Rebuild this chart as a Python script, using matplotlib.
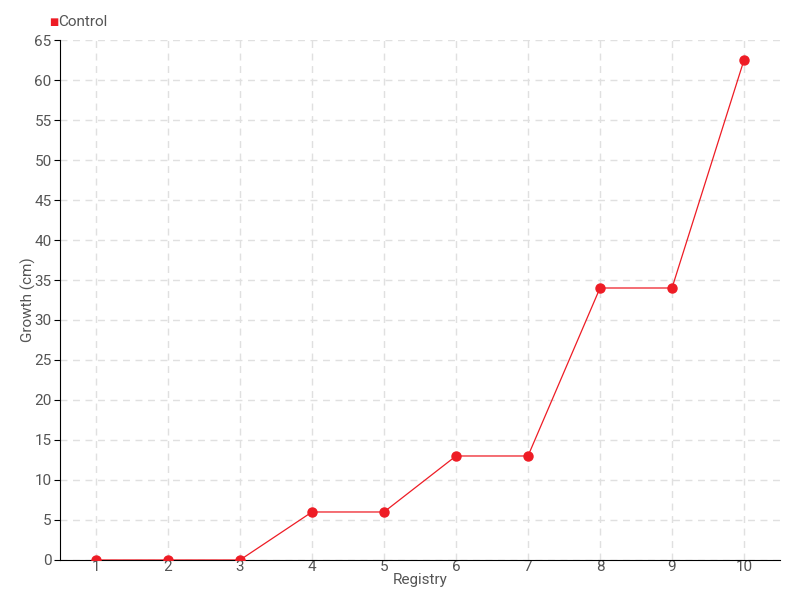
import matplotlib.pyplot as plt
import numpy as np

registry = [1, 2, 3, 4, 5, 6, 7, 8, 9, 10]
growth = [0, 0, 0, 6, 6, 13, 13, 34, 34, 62.5]
series_name = 'Control'

plt.rcParams['font.family'] = ['Roboto', 'DejaVu Sans']
txt = '#555555'
red = '#ee1c25'

fig = plt.figure(figsize=(8, 6), dpi=100)
ax = fig.add_axes([0.075, 0.0667, 0.9, 0.8666])

ax.plot(registry, growth, color=red, lw=0.9, marker='o', ms=6.5,
        markerfacecolor=red, markeredgecolor=red, label=series_name, zorder=3)

ax.set_xlim(0.5, 10.5)
ax.set_ylim(0, 65)
ax.set_xticks(registry)
ax.set_yticks(np.arange(0, 66, 5))
ax.grid(True, color='#e0e0e0', ls=(0, (5, 4)), lw=1)
for s in ['top', 'right']:
    ax.spines[s].set_visible(False)
ax.spines['left'].set_color('black')
ax.spines['bottom'].set_color('black')
ax.tick_params(axis='y', length=4, colors='black', labelcolor=txt, labelsize=11, pad=2)
ax.tick_params(axis='x', length=0, labelcolor=txt, labelsize=11, pad=0)

ax.set_xlabel('Registry', color=txt, fontsize=11, labelpad=-1)
ax.set_ylabel('Growth (cm)', color=txt, fontsize=11, labelpad=-1)

fig.text(0.061, 0.963, '\u25a0', color=red, fontsize=7, va='center', ha='left',
         family=['DejaVu Sans'])
fig.text(0.073, 0.963, series_name, color=txt, fontsize=11, va='center', ha='left')

plt.savefig('out.png', dpi=100)
